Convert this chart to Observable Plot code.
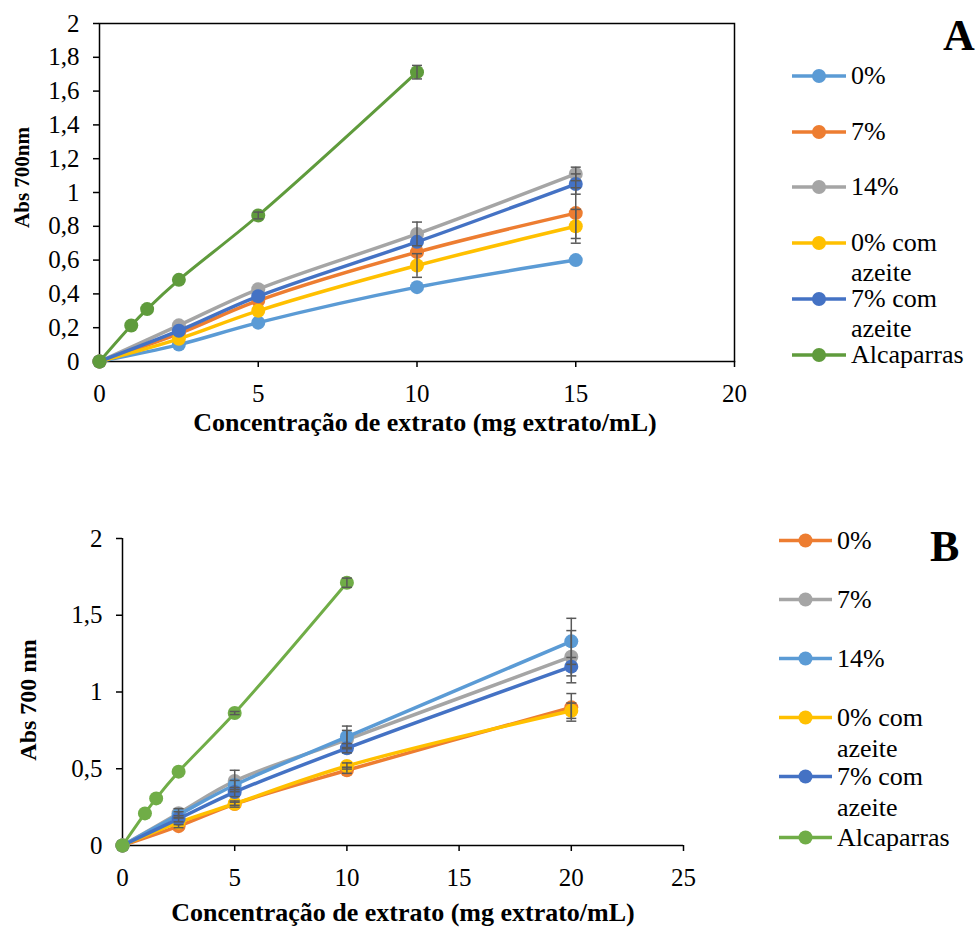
<!DOCTYPE html>
<html><head><meta charset="utf-8">
<script src="https://cdn.jsdelivr.net/npm/d3@7"></script>
<script src="https://cdn.jsdelivr.net/npm/@observablehq/plot@0.6"></script>
<style>
body{margin:0;background:#fff;}
#root{position:relative;width:978px;height:929px;font-family:'Liberation Serif','Times New Roman',serif;color:#000;overflow:hidden;}
.panel{position:absolute;left:0;}
.item{position:absolute;display:flex;align-items:flex-start;font-size:26px;}
.item svg{flex:none;display:block;}
.item span{display:block;width:124px;}
.tag{position:absolute;font-weight:bold;font-size:44px;line-height:1;}
</style></head><body><div id="root"></div>
<script>
// ---------- Panel A data ----------
const namesA = ["0%", "7%", "14%", "0% com azeite", "7% com azeite", "Alcaparras"];
const colorsA = ["#5B9BD5", "#ED7D31", "#A5A5A5", "#FFC000", "#4472C4", "#5F9B3C"];
const concA = [0, 2.5, 5, 10, 15];
const concAlcA = [0, 1, 1.5, 2.5, 5, 10];
const absA_0 = [0, 0.10, 0.23, 0.44, 0.60];
const absA_7 = [0, 0.165, 0.36, 0.647, 0.878];
const absA_14 = [0, 0.214, 0.428, 0.755, 1.11];
const absA_0az = [0, 0.134, 0.30, 0.568, 0.80];
const absA_7az = [0, 0.182, 0.386, 0.708, 1.05];
const absA_alc = [0, 0.213, 0.31, 0.483, 0.864, 1.712];
const errA_0 = [0, 0, 0, 0, 0];
const errA_7 = [0, 0, 0, 0, 0.15];
const errA_14 = [0, 0, 0, 0.07, 0.04];
const errA_0az = [0, 0, 0, 0.07, 0.10];
const errA_7az = [0, 0, 0, 0, 0.06];
const errA_alc = [0, 0, 0, 0, 0.02, 0.04];
const xTicksA = [0, 5, 10, 15, 20];
const yTicksA = [0, 0.2, 0.4, 0.6, 0.8, 1, 1.2, 1.4, 1.6, 1.8, 2];

// ---------- Panel B data ----------
const namesB = ["0%", "7%", "14%", "0% com azeite", "7% com azeite", "Alcaparras"];
const colorsB = ["#ED7D31", "#A5A5A5", "#5B9BD5", "#FFC000", "#4472C4", "#70AD47"];
const concB = [0, 2.5, 5, 10, 20];
const concAlcB = [0, 1, 1.5, 2.5, 5, 10];
const absB_0 = [0, 0.126, 0.27, 0.49, 0.90];
const absB_7 = [0, 0.21, 0.42, 0.69, 1.23];
const absB_14 = [0, 0.20, 0.394, 0.708, 1.33];
const absB_0az = [0, 0.15, 0.272, 0.518, 0.878];
const absB_7az = [0, 0.174, 0.348, 0.634, 1.165];
const absB_alc = [0, 0.209, 0.307, 0.481, 0.863, 1.712];
const errB_0 = [0, 0.01, 0.02, 0.02, 0.09];
const errB_7 = [0, 0.03, 0.07, 0.06, 0.17];
const errB_14 = [0, 0.02, 0.03, 0.07, 0.15];
const errB_0az = [0, 0, 0.01, 0.02, 0.05];
const errB_7az = [0, 0.02, 0.03, 0.03, 0.06];
const errB_alc = [0, 0, 0, 0, 0.01, 0.03];
const xTicksB = [0, 5, 10, 15, 20, 25];
const yTicksB = [0, 0.5, 1, 1.5, 2];

const xTitle = "Concentração de extrato (mg extrato/mL)";
const yTitleA = "Abs 700nm";
const yTitleB = "Abs 700 nm";

function build(names, colors, xs, ys, errs) {
  return names.map((name, i) => ({
    name, color: colors[i],
    data: xs[i].map((x, j) => ({x, y: ys[i][j], e: errs[i][j]}))
  }));
}
const seriesA = build(namesA, colorsA,
  [concA, concA, concA, concA, concA, concAlcA],
  [absA_0, absA_7, absA_14, absA_0az, absA_7az, absA_alc],
  [errA_0, errA_7, errA_14, errA_0az, errA_7az, errA_alc]);
const seriesB = build(namesB, colorsB,
  [concB, concB, concB, concB, concB, concAlcB],
  [absB_0, absB_7, absB_14, absB_0az, absB_7az, absB_alc],
  [errB_0, errB_7, errB_14, errB_0az, errB_7az, errB_alc]);

const capSymbol = {
  draw(ctx, size) { const r = Math.sqrt(size / Math.PI); ctx.moveTo(-r, 0); ctx.lineTo(r, 0); }
};
const fmt = d => String(+d.toFixed(1)).replace(".", ",");
const FONT = "'Liberation Serif','Times New Roman',serif";

function seriesMarks(series, widths) {
  const marks = [];
  series.forEach((s, i) => {
    marks.push(Plot.line(s.data, {x: "x", y: "y", stroke: s.color, strokeWidth: widths[i], curve: "catmull-rom"}));
    marks.push(Plot.dot(s.data, {x: "x", y: "y", r: 7, fill: s.color, stroke: "none"}));
  });
  const err = series.flatMap(s => s.data.filter(d => d.e > 0).map(d => ({x: d.x, lo: d.y - d.e, hi: d.y + d.e})));
  marks.push(Plot.ruleX(err, {x: "x", y1: "lo", y2: "hi", stroke: "#595959", strokeWidth: 1.5}));
  marks.push(Plot.dot(err, {x: "x", y: "hi", symbol: capSymbol, r: 5, fill: "none", stroke: "#595959", strokeWidth: 1.5}));
  marks.push(Plot.dot(err, {x: "x", y: "lo", symbol: capSymbol, r: 5, fill: "none", stroke: "#595959", strokeWidth: 1.5}));
  return marks;
}

const root = document.getElementById("root");

// Panel A
const plotA = Plot.plot({
  width: 978, height: 470,
  marginLeft: 99, marginRight: 244, marginTop: 23, marginBottom: 109,
  x: {domain: [0, 20]},
  y: {domain: [0, 2]},
  style: {fontFamily: FONT, fontSize: "24px", color: "#000", background: "transparent", overflow: "visible"},
  marks: [
    Plot.frame({stroke: "#000", strokeWidth: 1.5}),
    Plot.axisX({ticks: xTicksA, tickSize: 6, tickPadding: 17, label: null, strokeWidth: 1.5, fontSize: 25}),
    Plot.axisY({ticks: yTicksA, tickSize: 6, tickPadding: 14, tickFormat: fmt, label: null, strokeWidth: 1.5, fontSize: 25}),
    ...seriesMarks(seriesA, [3.5, 3.5, 3.5, 3.5, 3.5, 3]),
    Plot.text([xTitle], {frameAnchor: "bottom", lineAnchor: "middle", dx: 8, dy: 61, fontSize: 26, fontWeight: "bold"}),
    Plot.text([yTitleA], {frameAnchor: "left", textAnchor: "middle", lineAnchor: "middle", dx: -77, dy: -15, rotate: -90, fontSize: 21, fontWeight: "bold"})
  ]
});
plotA.classList.add("panel");
plotA.style.top = "0px";
root.appendChild(plotA);

// Panel B
const plotB = Plot.plot({
  width: 978, height: 459,
  marginLeft: 122, marginRight: 295, marginTop: 68, marginBottom: 84,
  x: {domain: [0, 25]},
  y: {domain: [0, 2]},
  style: {fontFamily: FONT, fontSize: "24px", color: "#000", background: "transparent", overflow: "visible"},
  marks: [
    Plot.ruleX([0], {stroke: "#000", strokeWidth: 1.5}),
    Plot.ruleY([0], {stroke: "#000", strokeWidth: 1.5}),
    Plot.axisX({ticks: xTicksB, tickSize: 6, tickPadding: 17, label: null, strokeWidth: 1.5, fontSize: 25}),
    Plot.axisY({ticks: yTicksB, tickSize: 6, tickPadding: 14, tickFormat: fmt, label: null, strokeWidth: 1.5, fontSize: 25}),
    ...seriesMarks(seriesB, [3.5, 3.5, 3.5, 3.5, 3.5, 3]),
    Plot.text([xTitle], {frameAnchor: "bottom", lineAnchor: "middle", dy: 67, fontSize: 26, fontWeight: "bold"}),
    Plot.text([yTitleB], {frameAnchor: "left", textAnchor: "middle", lineAnchor: "middle", dx: -94, dy: 8, rotate: -90, fontSize: 24, fontWeight: "bold"})
  ]
});
plotB.classList.add("panel");
plotB.style.top = "470px";
root.appendChild(plotB);

// Legends
function legend(series, swLeft, swW, centers, lineH) {
  series.forEach((s, i) => {
    const item = document.createElement("div");
    item.className = "item";
    item.style.left = swLeft + "px";
    item.style.top = (centers[i] - lineH / 2) + "px";
    item.style.lineHeight = lineH + "px";
    const svg = d3.create("svg").attr("width", swW + 5).attr("height", lineH);
    svg.append("line").attr("x1", 0).attr("x2", swW).attr("y1", lineH / 2).attr("y2", lineH / 2)
      .attr("stroke", s.color).attr("stroke-width", 3.5);
    svg.append("circle").attr("cx", swW / 2).attr("cy", lineH / 2).attr("r", 7).attr("fill", s.color);
    item.appendChild(svg.node());
    const span = document.createElement("span");
    span.textContent = s.name;
    item.appendChild(span);
    root.appendChild(item);
  });
}
legend(seriesA, 792, 54, [76, 131.5, 187, 243, 299, 355], 30);
legend(seriesB, 779, 53, [540, 599, 658, 717, 776, 837], 31);

function tag(t, left, top) {
  const d = document.createElement("div");
  d.className = "tag"; d.textContent = t;
  d.style.left = left + "px"; d.style.top = top + "px";
  root.appendChild(d);
}
tag("A", 943, 14);
tag("B", 930, 525);
</script></body></html>
